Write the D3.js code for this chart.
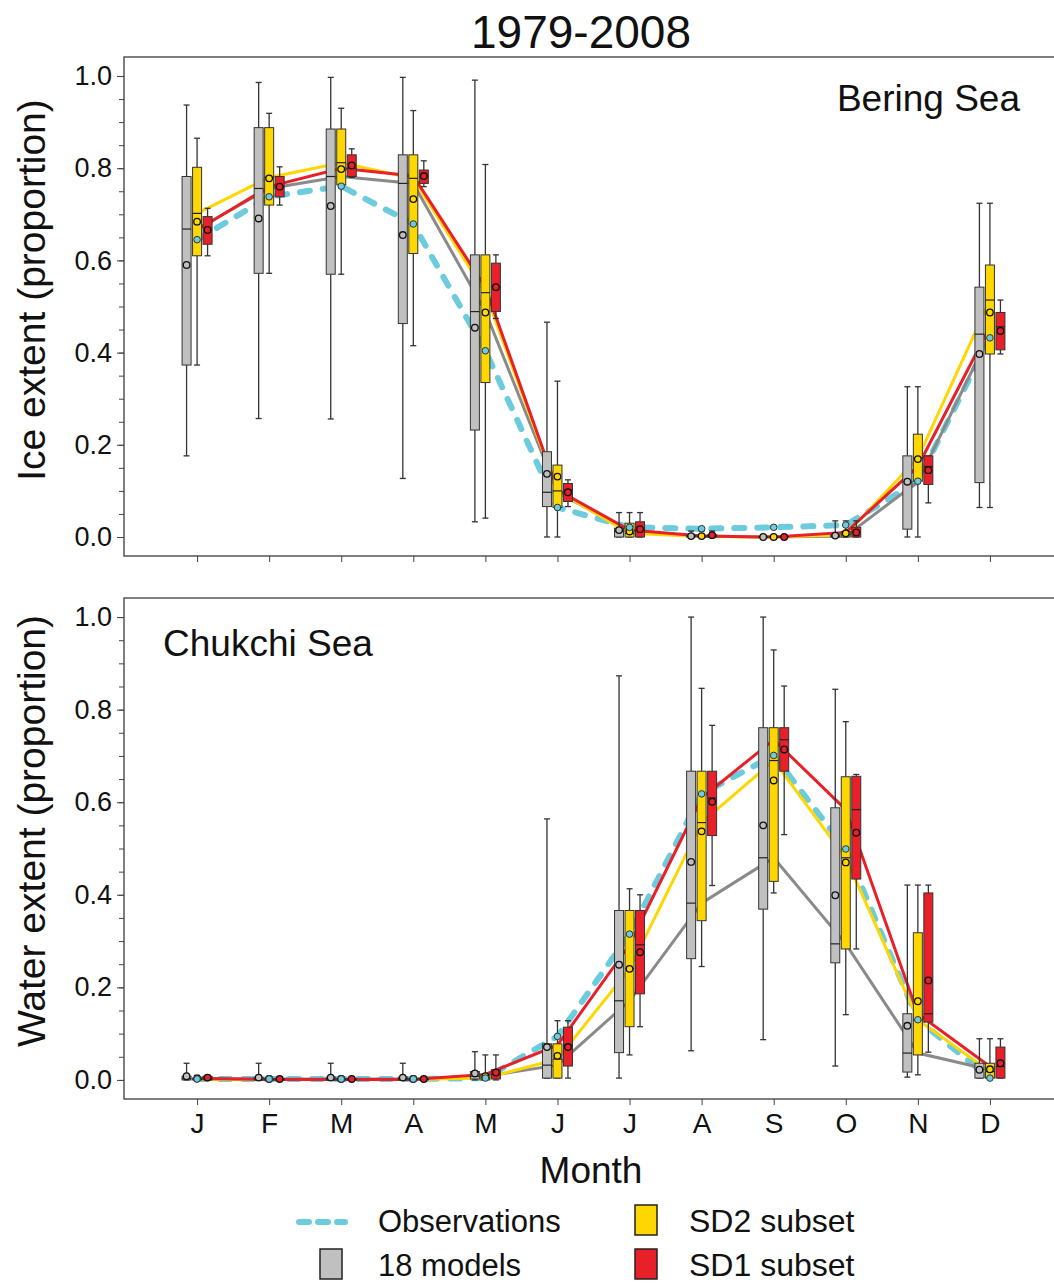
<!DOCTYPE html>
<html><head><meta charset="utf-8">
<script src="https://cdn.jsdelivr.net/npm/d3@7"></script>
<style>
body{margin:0;background:#fff}
svg{display:block}
text{font-family:"Liberation Sans",Arial,Helvetica,sans-serif;fill:#111}
</style>
</head><body>
<svg id="chart" width="1054" height="1285"></svg>
<script>
// ---------------- DATA ----------------
const monthLabels = ["J","F","M","A","M","J","J","A","S","O","N","D"];
const yTickValues = [0.0, 0.2, 0.4, 0.6, 0.8, 1.0];
const seriesNames = ["18 models", "SD2 subset", "SD1 subset"];

// each row: [whiskerLow, q1, median, q3, whiskerHigh, mean]
const beringModels = [
  [0.176,0.373,0.668,0.782,0.937,0.590],
  [0.257,0.572,0.756,0.888,0.986,0.691],
  [0.256,0.570,0.782,0.885,0.997,0.718],
  [0.127,0.463,0.767,0.829,0.997,0.655],
  [0.033,0.232,0.489,0.612,0.991,0.454],
  [0.000,0.066,0.097,0.185,0.466,0.137],
  [0.000,0.000,0.012,0.019,0.053,0.015],
  [0.000,0.000,0.002,0.004,0.013,0.002],
  [0.000,0.000,0.000,0.001,0.003,0.000],
  [0.000,0.000,0.002,0.005,0.035,0.003],
  [0.000,0.017,0.120,0.176,0.326,0.120],
  [0.064,0.118,0.440,0.542,0.724,0.397]
];
const beringSD2 = [
  [0.373,0.610,0.702,0.802,0.865,0.684],
  [0.572,0.720,0.780,0.888,0.919,0.778],
  [0.570,0.764,0.812,0.885,0.930,0.798],
  [0.415,0.615,0.778,0.829,0.925,0.733],
  [0.041,0.335,0.530,0.612,0.808,0.487],
  [0.000,0.064,0.100,0.156,0.338,0.131],
  [0.000,0.000,0.008,0.030,0.053,0.012],
  [0.000,0.000,0.001,0.003,0.013,0.002],
  [0.000,0.000,0.000,0.001,0.003,0.000],
  [0.000,0.000,0.005,0.012,0.035,0.008],
  [0.000,0.121,0.171,0.223,0.326,0.169],
  [0.064,0.397,0.514,0.590,0.724,0.487]
];
const beringSD1 = [
  [0.610,0.635,0.666,0.695,0.713,0.666],
  [0.720,0.738,0.760,0.782,0.803,0.760],
  [0.780,0.782,0.800,0.829,0.842,0.806],
  [0.760,0.767,0.783,0.796,0.816,0.783],
  [0.474,0.489,0.542,0.594,0.612,0.542],
  [0.066,0.077,0.102,0.116,0.124,0.097],
  [0.000,0.000,0.015,0.033,0.053,0.017],
  [0.000,0.000,0.002,0.005,0.013,0.004],
  [0.000,0.000,0.000,0.001,0.003,0.000],
  [0.000,0.000,0.010,0.021,0.035,0.010],
  [0.074,0.114,0.153,0.176,0.176,0.145],
  [0.397,0.406,0.456,0.487,0.514,0.447]
];
const beringObs = [0.645,0.738,0.761,0.679,0.404,0.064,0.021,0.018,0.021,0.026,0.121,0.432];

const chukchiModels = [
  [0.000,0.000,0.003,0.008,0.036,0.008],
  [0.000,0.000,0.002,0.006,0.036,0.005],
  [0.000,0.000,0.002,0.006,0.036,0.005],
  [0.000,0.000,0.002,0.006,0.036,0.005],
  [0.000,0.002,0.008,0.018,0.061,0.014],
  [0.004,0.004,0.032,0.078,0.564,0.071],
  [0.004,0.059,0.171,0.366,0.873,0.249],
  [0.063,0.262,0.382,0.667,1.000,0.471],
  [0.087,0.369,0.480,0.761,1.000,0.550],
  [0.030,0.253,0.294,0.588,0.844,0.399],
  [0.006,0.017,0.058,0.143,0.421,0.117],
  [0.004,0.004,0.022,0.036,0.089,0.022]
];
const chukchiSD2 = [
  [0.000,0.000,0.001,0.004,0.010,0.003],
  [0.000,0.000,0.001,0.003,0.008,0.002],
  [0.000,0.000,0.001,0.003,0.008,0.002],
  [0.000,0.000,0.001,0.003,0.008,0.002],
  [0.000,0.000,0.004,0.012,0.054,0.008],
  [0.004,0.004,0.045,0.078,0.128,0.052],
  [0.054,0.115,0.240,0.366,0.413,0.240],
  [0.245,0.344,0.556,0.667,0.846,0.537],
  [0.404,0.429,0.690,0.761,0.929,0.647],
  [0.141,0.283,0.480,0.655,0.774,0.470],
  [0.011,0.054,0.130,0.318,0.421,0.170],
  [0.004,0.004,0.018,0.036,0.089,0.023]
];
const chukchiSD1 = [
  [0.000,0.000,0.003,0.008,0.010,0.005],
  [0.000,0.000,0.001,0.003,0.006,0.002],
  [0.000,0.000,0.001,0.003,0.006,0.002],
  [0.000,0.000,0.001,0.003,0.006,0.002],
  [0.000,0.002,0.012,0.022,0.054,0.016],
  [0.004,0.030,0.075,0.114,0.128,0.071],
  [0.115,0.186,0.292,0.366,0.400,0.276],
  [0.420,0.528,0.609,0.667,0.766,0.601],
  [0.530,0.667,0.735,0.761,0.851,0.714],
  [0.283,0.434,0.584,0.656,0.660,0.534],
  [0.060,0.125,0.143,0.404,0.421,0.215],
  [0.004,0.004,0.029,0.071,0.089,0.036]
];
const chukchiObs = [0.002,0.002,0.002,0.002,0.004,0.094,0.315,0.618,0.701,0.499,0.130,0.004];

// ---------------- STYLE ----------------
const fills = ["#c0c0c0", "#ffd700", "#e8202a"];
const lineCols = ["#8a8a8a", "#ffd700", "#e8202a"];
const obsCol = "#6ccbdc";
const offsets = [-10.5, 0, 10.5];
const boxW = 9;
const FONT = '"Liberation Sans", Arial, sans-serif';

const svg = d3.select("#chart");
const left = 124, rightEdge = 1062;
const x = d3.scaleLinear().domain([-1, 12]).range([125, 1062]);

function drawPanel(cfg) {
  const g = svg.append("g");
  const y = d3.scaleLinear().domain([-0.0412, 1.0412]).range([cfg.bottom, cfg.top]);

  g.append("rect").attr("x", left).attr("y", cfg.top)
    .attr("width", rightEdge - left + 10).attr("height", cfg.bottom - cfg.top)
    .attr("fill", "none").attr("stroke", "#555").attr("stroke-width", 1.5);

  const minor = g.append("g").attr("transform", `translate(${left},0)`)
    .call(d3.axisLeft(y).tickValues(d3.range(0, 1.0001, 0.05)).tickSize(5).tickFormat(""));
  minor.select(".domain").remove();
  minor.selectAll("line").attr("stroke", "#444");
  const major = g.append("g").attr("transform", `translate(${left},0)`)
    .call(d3.axisLeft(y).tickValues(yTickValues).tickSize(7).tickPadding(5).tickFormat(d3.format(".1f")));
  major.select(".domain").remove();
  major.selectAll("line").attr("stroke", "#444");
  major.selectAll("text").attr("font-size", 27).attr("font-family", FONT).attr("fill", "#111");

  const xa = g.append("g").attr("transform", `translate(0,${cfg.bottom})`)
    .call(d3.axisBottom(x).tickValues(d3.range(12)).tickSize(6).tickPadding(8)
      .tickFormat(cfg.showMonths ? (i => monthLabels[i]) : ""));
  xa.select(".domain").remove();
  xa.selectAll("line").attr("stroke", "#444");
  xa.selectAll("text").attr("font-size", 28).attr("font-family", FONT).attr("fill", "#111");

  const groups = [cfg.models, cfg.sd2, cfg.sd1];

  const line = d3.line().x((d, i) => x(i)).y(d => y(d));
  g.append("path").datum(cfg.obs).attr("d", line)
    .attr("fill", "none").attr("stroke", obsCol).attr("stroke-width", 6)
    .attr("stroke-dasharray", "10,13").attr("stroke-linecap", "round");
  groups.forEach((arr, k) => {
    g.append("path").datum(arr.map(r => r[2])).attr("d", line)
      .attr("fill", "none").attr("stroke", lineCols[k]).attr("stroke-width", 3);
  });

  groups.forEach((arr, k) => {
    arr.forEach((r, i) => {
      const cx = x(i) + offsets[k];
      const [lo, q1, med, q3, hi] = r;
      const wg = g.append("g");
      wg.append("line").attr("x1", cx).attr("x2", cx).attr("y1", y(hi)).attr("y2", y(q3))
        .attr("stroke", "#333").attr("stroke-width", 1.3);
      wg.append("line").attr("x1", cx).attr("x2", cx).attr("y1", y(q1)).attr("y2", y(lo))
        .attr("stroke", "#333").attr("stroke-width", 1.3);
      [hi, lo].forEach(v => wg.append("line").attr("x1", cx - 3).attr("x2", cx + 3)
        .attr("y1", y(v)).attr("y2", y(v)).attr("stroke", "#333").attr("stroke-width", 1.3));
      wg.append("rect").attr("x", cx - boxW / 2).attr("y", y(q3))
        .attr("width", boxW).attr("height", Math.max(0.5, y(q1) - y(q3)))
        .attr("fill", fills[k]).attr("stroke", "#333").attr("stroke-width", 1);
      wg.append("line").attr("x1", cx - boxW / 2).attr("x2", cx + boxW / 2)
        .attr("y1", y(med)).attr("y2", y(med)).attr("stroke", "#222").attr("stroke-width", 1.2);
    });
  });
  groups.forEach((arr, k) => {
    g.selectAll(null).data(arr).enter().append("circle")
      .attr("cx", (r, i) => x(i) + offsets[k]).attr("cy", r => y(r[5])).attr("r", 3.3)
      .attr("fill", fills[k]).attr("stroke", "#111").attr("stroke-width", 1.3);
  });
  g.selectAll(null).data(cfg.obs).enter().append("circle")
    .attr("cx", (d, i) => x(i)).attr("cy", d => y(d)).attr("r", 3.3)
    .attr("fill", obsCol).attr("stroke", "#333").attr("stroke-width", 1);

  g.append("text").attr("x", cfg.labelX).attr("y", cfg.labelY).attr("text-anchor", cfg.labelAnchor)
    .attr("font-size", 37).text(cfg.label);
  g.append("text").attr("transform", `translate(45,${cfg.titleY}) rotate(-90)`)
    .attr("text-anchor", "middle").attr("font-size", 39).text(cfg.yTitle);
}

svg.append("text").attr("x", 581).attr("y", 48).attr("text-anchor", "middle")
  .attr("font-size", 46).text("1979-2008");

drawPanel({top: 57, bottom: 556, models: beringModels, sd2: beringSD2, sd1: beringSD1, obs: beringObs,
  showMonths: false, label: "Bering Sea", labelX: 1020, labelY: 111, labelAnchor: "end",
  yTitle: "Ice extent (proportion)", titleY: 290});
drawPanel({top: 598, bottom: 1099, models: chukchiModels, sd2: chukchiSD2, sd1: chukchiSD1, obs: chukchiObs,
  showMonths: true, label: "Chukchi Sea", labelX: 163, labelY: 656, labelAnchor: "start",
  yTitle: "Water extent (proportion)", titleY: 831});

svg.append("text").attr("x", 591).attr("y", 1183).attr("text-anchor", "middle")
  .attr("font-size", 37).text("Month");

const lg = svg.append("g");
lg.append("line").attr("x1", 299).attr("x2", 345).attr("y1", 1222).attr("y2", 1222)
  .attr("stroke", obsCol).attr("stroke-width", 6).attr("stroke-dasharray", "10,9").attr("stroke-linecap", "round");
lg.append("text").attr("x", 378).attr("y", 1232).attr("font-size", 31).text("Observations");
lg.append("rect").attr("x", 320).attr("y", 1249).attr("width", 22).attr("height", 30)
  .attr("fill", fills[0]).attr("stroke", "#222").attr("stroke-width", 1.5);
lg.append("text").attr("x", 378).attr("y", 1276).attr("font-size", 31).text(seriesNames[0]);
lg.append("rect").attr("x", 635).attr("y", 1205).attr("width", 22).attr("height", 30)
  .attr("fill", fills[1]).attr("stroke", "#222").attr("stroke-width", 1.5);
lg.append("text").attr("x", 689).attr("y", 1232).attr("font-size", 32).text(seriesNames[1]);
lg.append("rect").attr("x", 635).attr("y", 1249).attr("width", 22).attr("height", 30)
  .attr("fill", fills[2]).attr("stroke", "#222").attr("stroke-width", 1.5);
lg.append("text").attr("x", 689).attr("y", 1276).attr("font-size", 32).text(seriesNames[2]);
</script>
</body></html>
